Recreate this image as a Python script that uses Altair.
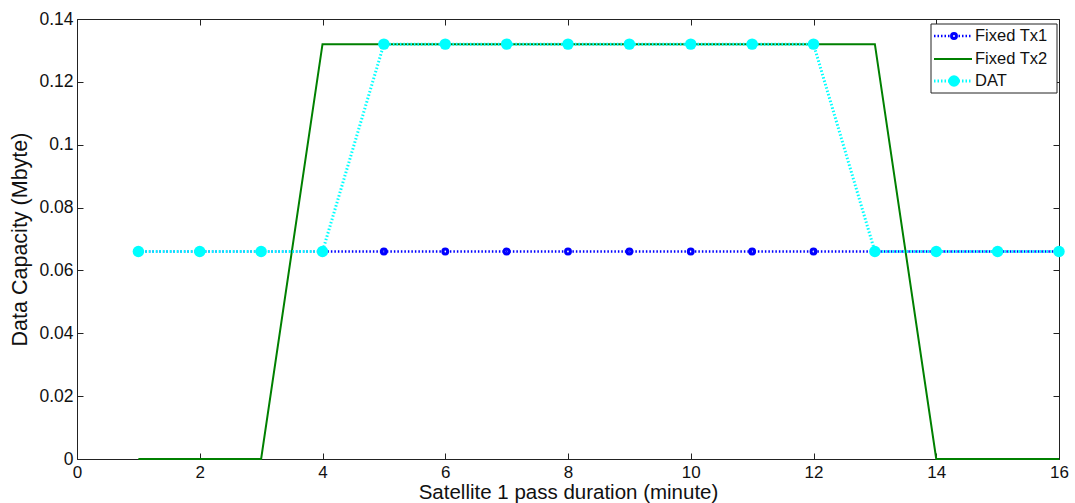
import altair as alt
import pandas as pd

# ---- data ----
minutes = [1, 2, 3, 4, 5, 6, 7, 8, 9, 10, 11, 12, 13, 14, 15, 16]
fixed_tx1 = [0.066, 0.066, 0.066, 0.066, 0.066, 0.066, 0.066, 0.066,
             0.066, 0.066, 0.066, 0.066, 0.066, 0.066, 0.066, 0.066]
fixed_tx2 = [0.0, 0.0, 0.0, 0.132, 0.132, 0.132, 0.132, 0.132,
             0.132, 0.132, 0.132, 0.132, 0.132, 0.0, 0.0, 0.0]
dat = [0.066, 0.066, 0.066, 0.066, 0.132, 0.132, 0.132, 0.132,
       0.132, 0.132, 0.132, 0.132, 0.066, 0.066, 0.066, 0.066]
series_names = ["Fixed Tx1", "Fixed Tx2", "DAT"]
x_ticks = [0, 2, 4, 6, 8, 10, 12, 14, 16]
y_ticks = [0, 0.02, 0.04, 0.06, 0.08, 0.1, 0.12, 0.14]
x_title = "Satellite 1 pass duration (minute)"
y_title = "Data Capacity (Mbyte)"

BLUE = "#0000ff"
GREEN = "#008000"
CYAN = "#00ffff"
FONT = "Liberation Sans"
W, H = 982, 440

df = pd.DataFrame({"t": minutes, "tx1": fixed_tx1, "tx2": fixed_tx2, "dat": dat})

xs = alt.Scale(domain=[0, 16], nice=False, zero=False)
ys = alt.Scale(domain=[0, 0.14], nice=False, zero=False)

x_main = alt.X("t:Q", scale=xs, axis=alt.Axis(
    orient="bottom", values=x_ticks, domain=False, grid=False, tickSize=6, offset=-6,
    tickColor="#222", labelFont=FONT, labelFontSize=17, labelColor="#111", labelPadding=5,
    labelFlush=False, title=x_title, titleFont=FONT, titleFontSize=20.5, titleFontWeight="normal",
    titleColor="#111", titleBaseline="alphabetic", titleY=45))
y_main = alt.Y("tx1:Q", scale=ys, axis=alt.Axis(
    orient="left", values=y_ticks, domain=False, grid=False, tickSize=6, offset=-6,
    tickColor="#222", labelFont=FONT, labelFontSize=17.5, labelColor="#111", labelPadding=4,
    labelFlush=False, format="~g", title=y_title, titleFont=FONT, titleFontSize=21.5,
    titleFontWeight="normal", titleColor="#111", titleBaseline="alphabetic", titleX=-57))

base = alt.Chart(df)

tx1_line = base.mark_line(color=BLUE, strokeWidth=2.5, strokeDash=[1.5, 2]).encode(x=x_main, y=y_main)
tx1_pts = base.mark_point(shape="circle", filled=False, color=BLUE, size=24, strokeWidth=3, opacity=1).encode(
    x=alt.X("t:Q", scale=xs, axis=None), y=alt.Y("tx1:Q", scale=ys, axis=None))
tx2_line = base.mark_line(color=GREEN, strokeWidth=2).encode(
    x=alt.X("t:Q", scale=xs, axis=None), y=alt.Y("tx2:Q", scale=ys, axis=None))
dat_line = base.mark_line(color=CYAN, strokeWidth=3, strokeDash=[1.5, 2]).encode(
    x=alt.X("t:Q", scale=xs, axis=None), y=alt.Y("dat:Q", scale=ys, axis=None))
dat_pts = base.mark_circle(color=CYAN, size=130, opacity=1).encode(
    x=alt.X("t:Q", scale=xs, axis=None), y=alt.Y("dat:Q", scale=ys, axis=None))

# mirrored inward ticks on top and right
mirror = base.mark_point(opacity=0).encode(
    x=alt.X("t:Q", scale=xs, axis=alt.Axis(orient="top", values=x_ticks, labels=False, domain=False,
                                             grid=False, tickSize=6, offset=-6, tickColor="#222", title=None)),
    y=alt.Y("tx1:Q", scale=ys, axis=alt.Axis(orient="right", values=y_ticks, labels=False, domain=False,
                                               grid=False, tickSize=6, offset=-6, tickColor="#222", title=None)))

# ---- legend ----
one = alt.Chart(pd.DataFrame({"a": [0]}))
LX0, LX1, LY0, LY1 = 854, 980, 5, 74
rows = [17, 40, 62]
leg_box = one.mark_rect(fill="white", stroke="#222", strokeWidth=1).encode(
    x=alt.value(LX0), x2=alt.value(LX1), y=alt.value(LY0), y2=alt.value(LY1))
leg = [leg_box]
leg.append(one.mark_rule(color=BLUE, strokeWidth=2.5, strokeDash=[1.5, 2]).encode(
    x=alt.value(857), x2=alt.value(895), y=alt.value(rows[0])))
leg.append(one.mark_point(shape="circle", filled=False, color=BLUE, size=24, strokeWidth=3, opacity=1).encode(
    x=alt.value(877), y=alt.value(rows[0])))
leg.append(one.mark_rule(color=GREEN, strokeWidth=2).encode(
    x=alt.value(857), x2=alt.value(895), y=alt.value(rows[1])))
leg.append(one.mark_rule(color=CYAN, strokeWidth=3, strokeDash=[1.5, 2]).encode(
    x=alt.value(857), x2=alt.value(895), y=alt.value(rows[2])))
leg.append(one.mark_circle(color=CYAN, size=130, opacity=1).encode(
    x=alt.value(877), y=alt.value(rows[2])))
for name, ry in zip(series_names, rows):
    leg.append(one.mark_text(align="left", baseline="middle", font=FONT, fontSize=16.5, color="#111").encode(
        x=alt.value(898), y=alt.value(ry), text=alt.value(name)))

chart = alt.layer(tx1_line, tx1_pts, tx2_line, dat_line, dat_pts, mirror, *leg).resolve_axis(
    x="independent", y="independent"
).properties(
    width=W, height=H, autosize="none",
    padding={"left": 77, "top": 19, "right": 16, "bottom": 44},
    background="white",
).configure_view(stroke="#222", strokeWidth=1)

chart.save("out.html", embed_options={"renderer": "svg", "actions": False})
